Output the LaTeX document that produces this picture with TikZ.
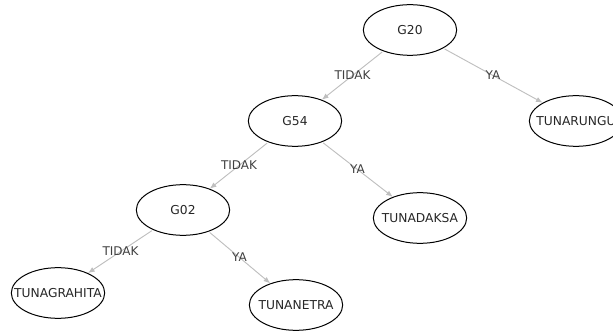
\documentclass[tikz,border=0pt]{standalone}
\usepackage{fontspec}
\setmainfont{DejaVu Sans}
\usetikzlibrary{shapes.geometric, arrows.meta}

\tikzset{
    leaf/.style={ellipse, draw, line width=0.75pt, minimum width=70pt, minimum height=38pt,
        inner sep=0pt, label={[font=\fontsize{9.2}{11}\selectfont, text=black!85]center:#1}},
    branch/.style={draw=black!25, line width=0.7pt, -{Latex[length=5pt, width=4pt]}, shorten <=1pt},
    answer/.style={font=\fontsize{9}{11}\selectfont, text=black!75}
}

\begin{document}
\begin{tikzpicture}[x=0.75pt, y=-0.75pt]
    \useasboundingbox (0,0) rectangle (613,331);
    \node[leaf=G20] (g20) at (410,30) {};
    \node[leaf=G54] (g54) at (295,121) {};
    \node[leaf=TUNARUNGU] (tunarungu) at (576,121) {};
    \node[leaf=G02] (g02) at (183,210) {};
    \node[leaf=TUNADAKSA] (tunadaksa) at (420,218) {};
    \node[leaf=TUNAGRAHITA] (tunagrahita) at (58,293) {};
    \node[leaf=TUNANETRA] (tunanetra) at (296,305) {};
    \foreach \a/\b/\l in {g20/g54/TIDAK, g20/tunarungu/YA, g54/g02/TIDAK,
        g54/tunadaksa/YA, g02/tunagrahita/TIDAK, g02/tunanetra/YA} {
        \draw[branch] (\a) -- node[answer] {\l} (\b);
    }
\end{tikzpicture}
\end{document}
